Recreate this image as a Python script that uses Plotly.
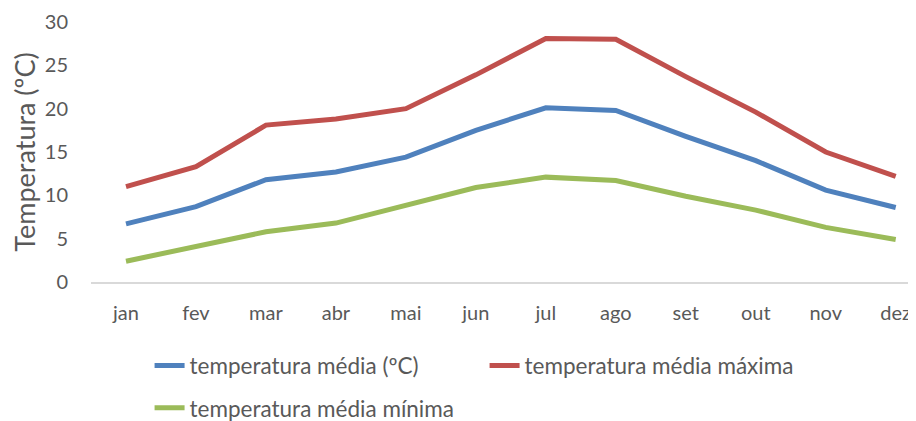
import plotly.graph_objects as go

# monthly temperatures (ºC)
months = ["jan", "fev", "mar", "abr", "mai", "jun", "jul", "ago", "set", "out", "nov", "dez"]
temp_media = [6.7, 8.7, 11.8, 12.7, 14.4, 17.5, 20.1, 19.8, 16.8, 14.0, 10.6, 8.6]
temp_maxima = [11.0, 13.3, 18.1, 18.8, 20.0, 23.9, 28.1, 28.0, 23.7, 19.6, 15.0, 12.2]
temp_minima = [2.4, 4.1, 5.8, 6.8, 8.9, 10.9, 12.1, 11.7, 9.9, 8.3, 6.3, 4.9]

FONT = "Lato"
GREY = "#595959"

fig = go.Figure()

series = [
    ("temperatura média (ºC)", temp_media, "#4F81BD", "legend"),
    ("temperatura média máxima", temp_maxima, "#C0504D", "legend"),
    ("temperatura média mínima", temp_minima, "#9BBB59", "legend2"),
]
for name, vals, color, leg in series:
    fig.add_trace(go.Scatter(
        x=months, y=vals, name=name, mode="lines",
        line=dict(color=color, width=5),
        legend=leg,
    ))

legend_style = dict(
    orientation="h", xanchor="left", yanchor="middle",
    font=dict(family=FONT, size=22.5, color=GREY),
    bgcolor="rgba(0,0,0,0)", entrywidth=290,
)

# the page body adds an 8px offset, so the figure is shrunk to fit the window
fig.update_layout(
    width=908, height=413,
    margin=dict(l=83, r=0, t=14, b=139, autoexpand=False),
    paper_bgcolor="white", plot_bgcolor="white",
    font=dict(family=FONT, size=20, color=GREY),
    xaxis=dict(
        type="category", range=[-0.5, 11.29],
        showgrid=False, showline=True, linecolor="#D9D9D9", linewidth=1.5,
        ticks="", ticklabelstandoff=12, tickfont=dict(size=20, color=GREY),
    ),
    yaxis=dict(
        range=[0, 30], dtick=5, showgrid=False, zeroline=False,
        showline=False, ticks="", ticklabelstandoff=22,
        tickfont=dict(size=20, color=GREY),
        title=dict(text="Temperatura (ºC)", font=dict(size=27, color=GREY), standoff=2),
    ),
    legend=dict(x=0.071, y=-0.323, **legend_style),
    legend2=dict(x=0.071, y=-0.485, **legend_style),
)

fig.write_html("out.html")
